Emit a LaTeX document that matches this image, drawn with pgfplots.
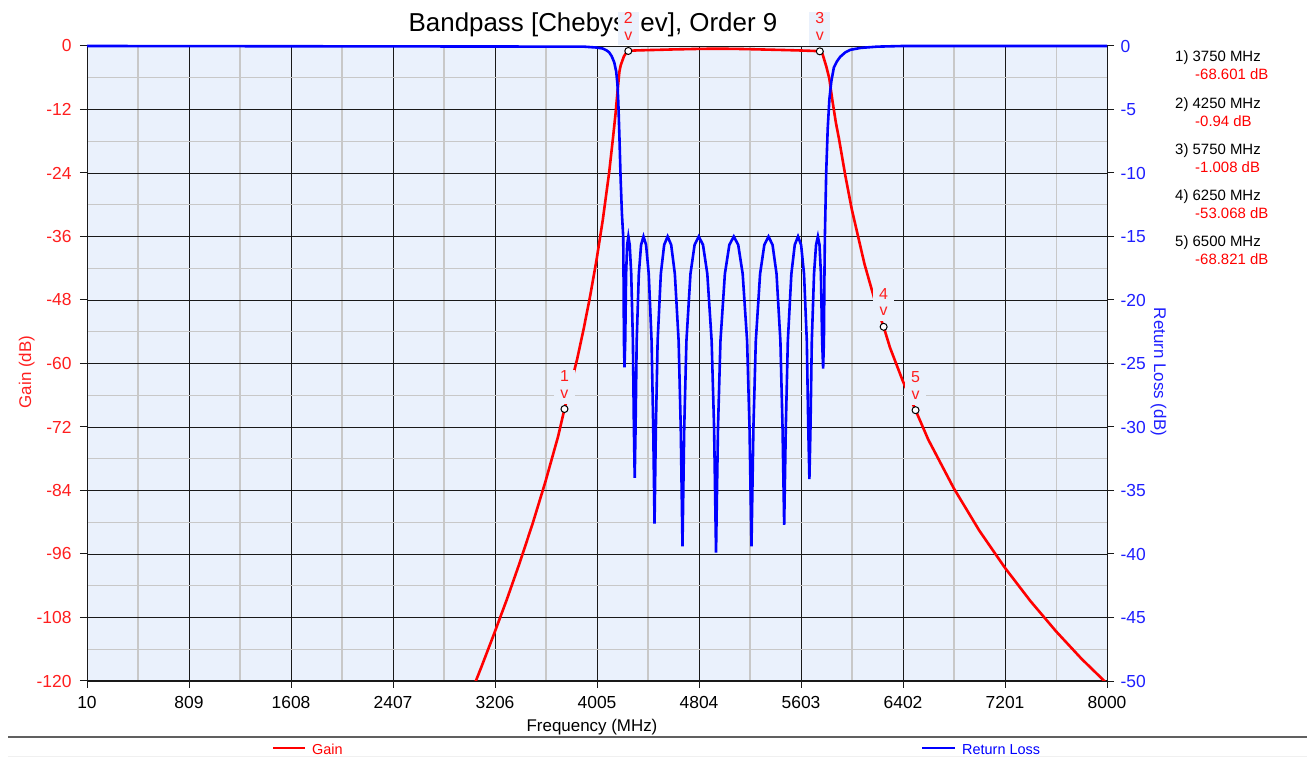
\documentclass[border=0pt]{standalone}
\usepackage{fontspec}
\setmainfont{Liberation Sans}
\usepackage{pgfplots}
\usepackage{pgfplotstable}
\pgfplotsset{compat=1.18}
\definecolor{bgcol}{RGB}{234,241,252}
\definecolor{gridmaj}{RGB}{25,25,25}
\definecolor{gridmin}{RGB}{200,200,200}
\definecolor{tickred}{RGB}{255,30,30}
\definecolor{tickblue}{RGB}{30,30,255}

\pgfplotstableread{
f g
3000 -123.4
3100 -117.3
3200 -111.0
3300 -104.5
3400 -97.6
3500 -90.3
3600 -82.4
3700 -73.8
3750 -68.601
3800 -64.0
3850 -59.1
3900 -53.5
3950 -47.4
4000 -40.6
4050 -32.9
4100 -23.9
4130 -17.4
4150 -12.8
4165 -8.8
4180 -4.9
4190 -3.7
4200 -3.0
4215 -2.0
4235 -1.2
4250 -0.94
4300 -0.85
4400 -0.78
4500 -0.72
4600 -0.65
4700 -0.60
4800 -0.55
4900 -0.52
5000 -0.52
5100 -0.55
5200 -0.60
5300 -0.66
5400 -0.72
5500 -0.78
5600 -0.85
5700 -0.93
5750 -1.008
5770 -1.4
5785 -2.6
5800 -3.8
5824 -6.1
5850 -10.5
5876 -14.5
5900 -17.5
5950 -24.5
6000 -30.8
6100 -41.2
6200 -49.7
6250 -53.068
6300 -57.0
6400 -63.3
6500 -68.821
6600 -74.4
6800 -83.6
7000 -91.6
7200 -98.6
7400 -104.9
7600 -110.6
7800 -115.8
8000 -120.5
}\gaintable

\pgfplotstableread{
f rl
10 0
3900 -0.05
4000 -0.12
4050 -0.2
4080 -0.35
4100 -0.5
4120 -0.8
4140 -1.3
4155 -2.0
4165 -3.0
4172 -4.5
4180 -7.0
4190 -10.5
4200 -13.2
4210.1 -15.0
4210.7 -15.66
4212.6 -17.94
4215.8 -23.22
4220.2 -25.3
4225.9 -23.22
4232.8 -17.94
4241.0 -15.66
4250.4 -15.0
4261.0 -15.66
4272.9 -17.94
4286.0 -23.22
4293.8 -30.06
4300.2 -34.0
4306.9 -30.06
4315.7 -23.22
4332.4 -17.94
4350.1 -15.66
4369.0 -15.0
4389.1 -15.66
4410.1 -17.94
4432.3 -23.22
4445.2 -30.06
4455.5 -37.6
4466.0 -30.06
4479.7 -23.22
4504.8 -17.94
4530.9 -15.66
4558.0 -15.0
4585.9 -15.66
4614.6 -17.94
4644.2 -23.22
4660.8 -30.06
4674.4 -39.4
4688.1 -30.06
4705.3 -23.22
4736.9 -17.94
4769.2 -15.66
4801.9 -15.0
4835.2 -15.66
4868.9 -17.94
4902.8 -23.22
4921.9 -30.06
4937.2 -39.9
4952.5 -30.06
4971.8 -23.22
5006.5 -17.94
5041.4 -15.66
5076.3 -15.0
5111.1 -15.66
5145.9 -17.94
5180.5 -23.22
5199.5 -30.06
5214.8 -39.4
5230.0 -30.06
5248.7 -23.22
5282.3 -17.94
5315.4 -15.66
5348.0 -15.0
5379.9 -15.66
5411.1 -17.94
5441.4 -23.22
5458.1 -30.06
5471.0 -37.7
5483.7 -30.06
5499.6 -23.22
5527.3 -17.94
5553.8 -15.66
5579.3 -15.0
5603.5 -15.66
5626.5 -17.94
5648.2 -23.22
5659.7 -30.06
5668.5 -34.1
5677.0 -30.06
5687.4 -23.22
5704.8 -17.94
5720.7 -15.66
5735.0 -15.0
5747.7 -15.66
5758.8 -17.94
5768.3 -23.22
5776.1 -25.4
5782.1 -23.22
5786.5 -17.94
5789.1 -15.66
5789.9 -15.0
5800 -10.0
5812 -6.5
5825 -4.2
5840 -2.8
5860 -1.7
5885 -1.2
5910 -0.85
5950 -0.5
5990 -0.3
6070 -0.15
6200 -0.05
6400 0
8000 0
}\rltable

\pgfplotstableread{
f g lab
3750 -68.601 1
4250 -0.94 2
5750 -1.008 3
6250 -53.068 4
6500 -68.821 5
}\markertable

\begin{document}
\begin{tikzpicture}
\path[use as bounding box] (0,0) rectangle (1307bp,758bp);
\node[anchor=base, font=\fontsize{26}{30}\selectfont] at (593bp,726bp) {Bandpass [Chebyshev], Order 9};

\begin{axis}[
  at={(87bp,77bp)}, anchor=south west,
  width=1020bp, height=635bp, scale only axis,
  xmin=10, xmax=8000, ymin=-120, ymax=0,
  axis x line*=bottom, axis y line*=left,
  axis line style={gridmaj, line width=1bp},
  axis background/.style={fill=bgcol},
  xtick={10,809,1608,2407,3206,4005,4804,5603,6402,7201,8000},
  xticklabels={10,809,1608,2407,3206,4005,4804,5603,6402,7201,8000},
  ytick={-120,-108,-96,-84,-72,-60,-48,-36,-24,-12,0},
  yticklabels={-120,-108,-96,-84,-72,-60,-48,-36,-24,-12,0},
  minor x tick num=1, minor y tick num=1,
  grid=both,
  major grid style={gridmaj, line width=0.9bp},
  minor grid style={gridmin, line width=1.1bp},
  tick align=outside, major tick length=7bp, minor tick length=0bp,
  tick style={gridmaj, line width=1bp},
  ticklabel style={font=\fontsize{17.5}{19}\selectfont},
  xticklabel style={text=black, yshift=-5bp},
  yticklabel style={text=tickred, xshift=-5bp},
]
\addplot[red, line width=2.6bp] table[x=f, y=g] {\gaintable};
\end{axis}

\begin{axis}[
  at={(87bp,77bp)}, anchor=south west,
  width=1020bp, height=635bp, scale only axis,
  xmin=10, xmax=8000, ymin=-50, ymax=0,
  axis x line=none, axis y line*=right,
  axis line style={gridmaj, line width=1bp},
  ytick={-50,-45,-40,-35,-30,-25,-20,-15,-10,-5,0},
  yticklabels={-50,-45,-40,-35,-30,-25,-20,-15,-10,-5,0},
  tick align=outside, major tick length=7bp,
  tick style={gridmaj, line width=1bp},
  ticklabel style={font=\fontsize{17.5}{19}\selectfont},
  yticklabel style={text=tickblue, xshift=3bp},
  clip=false,
]
\addplot[blue, line width=2.6bp] table[x=f, y=rl] {\rltable};
\end{axis}

\begin{axis}[
  at={(87bp,77bp)}, anchor=south west,
  width=1020bp, height=635bp, scale only axis,
  xmin=10, xmax=8000, ymin=-120, ymax=0,
  hide axis, clip=false,
]
\addplot[only marks, mark=*, mark size=3.5bp,
  mark options={fill=white, draw=black, line width=1bp},
  nodes near coords={\begin{tabular}{@{}c@{}}\pgfplotspointmeta\\v\end{tabular}},
  point meta=explicit symbolic,
  every node near coord/.append style={anchor=south, yshift=5bp, fill=bgcol,
    text=tickred, inner sep=0.5bp, minimum width=21bp,
    font=\fontsize{16}{16.5}\selectfont},
] table[x=f, y=g, meta=lab] {\markertable};
\end{axis}

% axis titles
\node[anchor=base, font=\fontsize{17}{19}\selectfont] at (592bp,27bp) {Frequency (MHz)};
\node[anchor=base, rotate=90, text=tickred, font=\fontsize{17}{19}\selectfont] at (31bp,386bp) {Gain (dB)};
\node[anchor=base, rotate=-90, text=tickblue, font=\fontsize{17}{19}\selectfont] at (1154bp,386bp) {Return Loss (dB)};

% marker readout
\begin{scope}[every node/.style={anchor=base west, inner sep=0pt, font=\fontsize{15}{17}\selectfont}]
\node at (1175bp,696bp) {1) 3750 MHz};
\node[text=red] at (1195bp,678bp) {-68.601 dB};
\node at (1175bp,649.7bp) {2) 4250 MHz};
\node[text=red] at (1195bp,631.7bp) {-0.94 dB};
\node at (1175bp,603.4bp) {3) 5750 MHz};
\node[text=red] at (1195bp,585.4bp) {-1.008 dB};
\node at (1175bp,557bp) {4) 6250 MHz};
\node[text=red] at (1195bp,539bp) {-53.068 dB};
\node at (1175bp,511bp) {5) 6500 MHz};
\node[text=red] at (1195bp,493bp) {-68.821 dB};
\end{scope}

% legend
\draw[gray!75!black, line width=1.3bp] (8bp,21bp) -- (1307bp,21bp);
\draw[gray!12, line width=1bp] (8bp,1.3bp) -- (1307bp,1.3bp);
\draw[red, line width=2.4bp] (273bp,10bp) -- (305bp,10bp);
\node[anchor=base west, inner sep=0pt, text=red, font=\fontsize{14.5}{16}\selectfont] at (312bp,4bp) {Gain};
\draw[blue, line width=2.4bp] (922bp,10bp) -- (955bp,10bp);
\node[anchor=base west, inner sep=0pt, text=blue, font=\fontsize{14.5}{16}\selectfont] at (962bp,4bp) {Return Loss};
\end{tikzpicture}
\end{document}
